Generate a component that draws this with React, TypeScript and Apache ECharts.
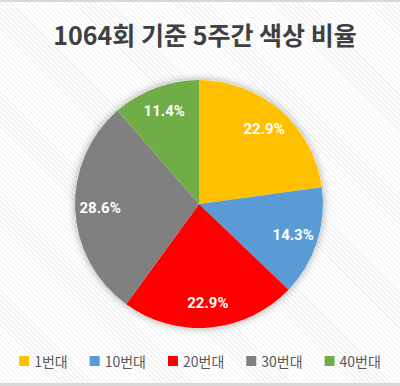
import React, { useEffect, useRef } from "react";
import * as echarts from "echarts";

const categories = ["1번대", "10번대", "20번대", "30번대", "40번대"];
const counts = [8, 5, 8, 10, 4];
const colors = ["#FFC000", "#5B9BD5", "#FF0000", "#808080", "#70AD47"];
const titleText = "1064회 기준 5주간 색상 비율";

export default function App() {
  const ref = useRef<HTMLDivElement>(null);
  useEffect(() => {
    if (!ref.current) return;
    const chart = echarts.init(ref.current, null, { renderer: "svg" });
    const data = categories.map((name, i) => ({ name, value: counts[i], itemStyle: { color: colors[i] } }));
    const total = counts.reduce((a, b) => a + b, 0);
    chart.setOption({
      animation: false,
      backgroundColor: "transparent",
      title: {
        text: titleText,
        left: 200,
        top: 14,
        textAlign: "center",
        textStyle: {
          fontFamily: "Noto Sans CJK KR",
          fontWeight: "bold",
          fontSize: 25,
          color: "#404040",
        },
      },
      legend: {
        data: categories,
        bottom: 10,
        left: "center",
        itemWidth: 10,
        itemHeight: 10,
        itemGap: 22,
        icon: "rect",
        textStyle: { fontFamily: "Noto Sans CJK KR", fontSize: 14, color: "#595959" },
      },
      series: [
        {
          type: "pie",
          radius: [0, 124],
          center: [199, 202],
          silent: true,
          z: 1,
          label: { show: false },
          itemStyle: { color: "#ffffff", shadowBlur: 8, shadowColor: "rgba(0,0,0,0.35)" },
          data: [{ name: "_bg", value: 1 }],
          legendHoverLink: false,
        },
        {
          type: "pie",
          radius: [0, 124],
          center: [199, 202],
          startAngle: 90,
          clockwise: true,
          z: 2,
          label: { show: false },
          labelLine: { show: false },
          data,
        },
        {
          type: "pie",
          radius: [68, 124],
          center: [199, 202],
          startAngle: 90,
          clockwise: true,
          silent: true,
          z: 3,
          itemStyle: { color: "transparent" },
          label: {
            show: true,
            position: "inside",
            formatter: (p: any) => ((p.value / total) * 100).toFixed(1) + "%",
            color: "#ffffff",
            fontFamily: "Roboto",
            fontWeight: "bold",
            fontSize: 15,
          },
          labelLine: { show: false },
          legendHoverLink: false,
          data: categories.map((name, i) => ({ name: name + " ", value: counts[i] })),
        },
      ],
    });
    return () => chart.dispose();
  }, []);
  return (
    <div
      style={{
        position: "absolute",
        left: 0,
        top: 0,
        width: 400,
        height: 386,
        boxSizing: "border-box",
        borderTop: "2px solid #d8d8d8",
        borderBottom: "3px solid #d8d8d8",
        background:
          "repeating-linear-gradient(45deg, #ffffff 0px, #ffffff 2.5px, #f0f0f0 2.5px, #f0f0f0 3.5px)",
      }}
    >
      <div ref={ref} style={{ width: 400, height: 381 }} />
    </div>
  );
}
